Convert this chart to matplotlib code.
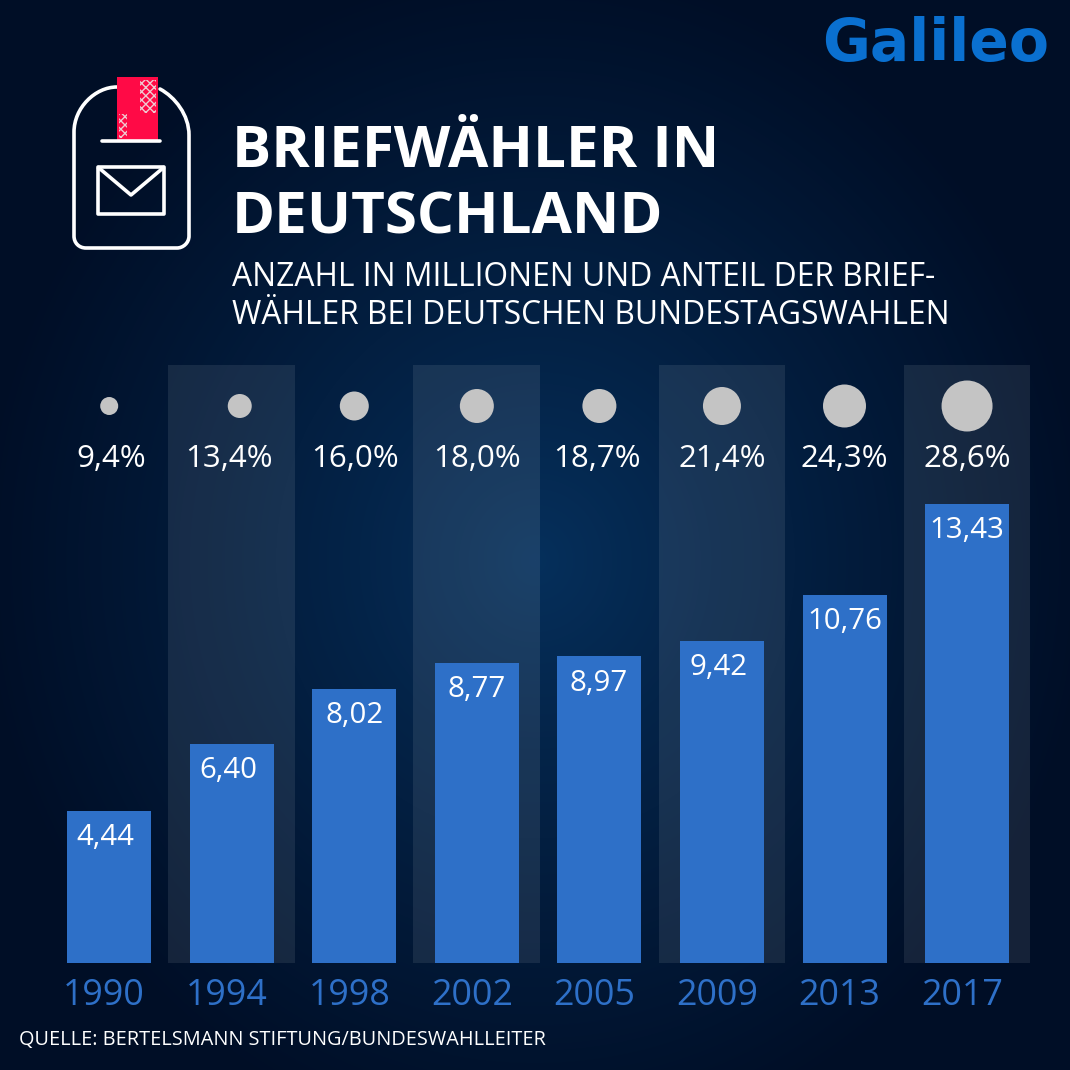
import numpy as np
import matplotlib
matplotlib.use("Agg")
import matplotlib.pyplot as plt
from matplotlib.patches import Rectangle, PathPatch
from matplotlib.path import Path
from matplotlib.transforms import ScaledTranslation

years = ["1990", "1994", "1998", "2002", "2005", "2009", "2013", "2017"]
millions = [4.44, 6.40, 8.02, 8.77, 8.97, 9.42, 10.76, 13.43]
million_labels = ["4,44", "6,40", "8,02", "8,77", "8,97", "9,42", "10,76", "13,43"]
share_labels = ["9,4%", "13,4%", "16,0%", "18,0%", "18,7%", "21,4%", "24,3%", "28,6%"]
circle_diameter_px = [18, 24, 29, 34, 34, 38, 43, 51]

# small horizontal layout nudges, in pixels
nudge_value = [-4, -3, 0, 0, -1, -3, 0, 0]
nudge_share = [2, -3, 1, 0, -2, 0, 0, 0]
nudge_circle = [0, 8, 0, 0, 0, 0, 0, 0]

W = H = 1070
plt.rcParams['font.family'] = ['Open Sans', 'DejaVu Sans']
fig = plt.figure(figsize=(10.7, 10.7), dpi=100)

# background
bg = fig.add_axes([0, 0, 1, 1], zorder=0)
yy, xx = np.mgrid[0:H, 0:W]
r = np.sqrt(((xx - 535) / 560.0) ** 2 + ((yy - 560) / 600.0) ** 2)
t = np.clip(r, 0, 1)[..., None] ** 0.9
c0 = np.array([6, 48, 92]) / 255
c1 = np.array([0, 14, 38]) / 255
bg.imshow(c0 * (1 - t) + c1 * t, extent=(0, W, H, 0), aspect='auto')
bg.set_axis_off()

# chart axes
STEP = 122.55
X0 = 109.2
BASE = 963
TOP = 365
SCALE = 34.18
ax = fig.add_axes([0, 1 - BASE / H, 1, (BASE - TOP) / H], zorder=1)
ax.patch.set_alpha(0)
ax.set_xlim(-X0 / STEP, (W - X0) / STEP)
ax.set_ylim(0, (BASE - TOP) / SCALE)
pos = np.arange(len(years))
for i in pos[1::2]:
    ax.axvspan(i - 0.517, i + 0.517, color='white', alpha=0.085, lw=0, zorder=1)
ax.bar(pos, millions, width=84 / STEP, color='#2e70c8', zorder=2)
for p, v, s, n in zip(pos, millions, million_labels, nudge_value):
    ax.annotate(s, (p, v), xytext=(n * 0.72, -19.2), textcoords='offset points', ha='center', va='center',
                color='white', fontsize=21.2, zorder=3)
tr = ax.get_xaxis_transform()
ax.scatter(pos + np.array(nudge_circle) / STEP, [(BASE - 406) / (BASE - TOP)] * len(pos),
           s=[(d * 0.72) ** 2 for d in circle_diameter_px],
           color='#c4c4c4', transform=tr, linewidths=0, zorder=3)
for p, s, n in zip(pos, share_labels, nudge_share):
    ax.text(p + n / STEP, (BASE - 459) / (BASE - TOP), s, transform=tr, ha='center', va='center',
            color='white', fontsize=22.5, zorder=3)
ax.set_xticks(pos, years)
ax.tick_params(axis='x', length=0, pad=11, labelsize=25.8, labelcolor='#2e70c8')
for lab in ax.get_xticklabels():
    lab.set_transform(lab.get_transform() + ScaledTranslation(-5 / 100, 0, fig.dpi_scale_trans))
ax.set_yticks([])
for sp in ax.spines.values():
    sp.set_visible(False)

# overlay in pixels
ov = fig.add_axes([0, 0, 1, 1], zorder=2)
ov.set_xlim(0, W)
ov.set_ylim(H, 0)
ov.set_axis_off()
ov.patch.set_alpha(0)

ov.text(232, 152, "BRIEFWÄHLER IN", color='white', fontsize=42, fontweight='bold', va='center', ha='left')
ov.text(232, 218, "DEUTSCHLAND", color='white', fontsize=42, fontweight='bold', va='center', ha='left')
ov.text(232, 277, "ANZAHL IN MILLIONEN UND ANTEIL DER BRIEF-", color='white', fontsize=22.85, va='center', ha='left')
ov.text(232, 316, "WÄHLER BEI DEUTSCHEN BUNDESTAGSWAHLEN", color='white', fontsize=22.85, va='center', ha='left')
ov.text(19, 1040, "QUELLE: BERTELSMANN STIFTUNG/BUNDESWAHLLEITER", color='white', fontsize=14.28, va='center', ha='left')
ov.text(936, 44, "Galileo", color='#0a70d0', fontsize=42, fontweight='bold', family='DejaVu Sans', va='center', ha='center')

# mailbox icon
lw = 2.6
MT, CT = Path.MOVETO, Path.CURVE4
verts = [(160, 89), (175, 97), (189, 115), (189, 135), (189, 236), (189, 243), (183, 248), (177, 248),
         (86, 248), (79, 248), (74, 243), (74, 236), (74, 132), (74, 108), (95, 87), (117, 87)]
codes = [MT, CT, CT, CT, Path.LINETO, CT, CT, CT, Path.LINETO, CT, CT, CT, Path.LINETO, CT, CT, CT]
ov.add_patch(PathPatch(Path(verts, codes), fill=False, ec='white', lw=lw, capstyle='round'))
ov.add_patch(Rectangle((117, 77), 41, 63, fc='#ff0a46', ec='none', zorder=3))
ov.plot([102, 160], [140.5, 140.5], color='white', lw=2.6, solid_capstyle='round', zorder=4)
ov.add_patch(Rectangle((98, 167), 66, 47, fill=False, ec='white', lw=lw, joinstyle='round'))
ov.plot([99, 131, 163], [168, 195, 168], color='white', lw=lw, solid_joinstyle='round')
ov.add_patch(Rectangle((140, 80), 16, 33, fc='none', ec='#f0c8d0', lw=0, hatch='xxxx', zorder=4))
ov.add_patch(Rectangle((119, 114), 8, 24, fc='none', ec='#f0c8d0', lw=0, hatch='xxxx', zorder=4))

fig.savefig("out.png", dpi=100)
